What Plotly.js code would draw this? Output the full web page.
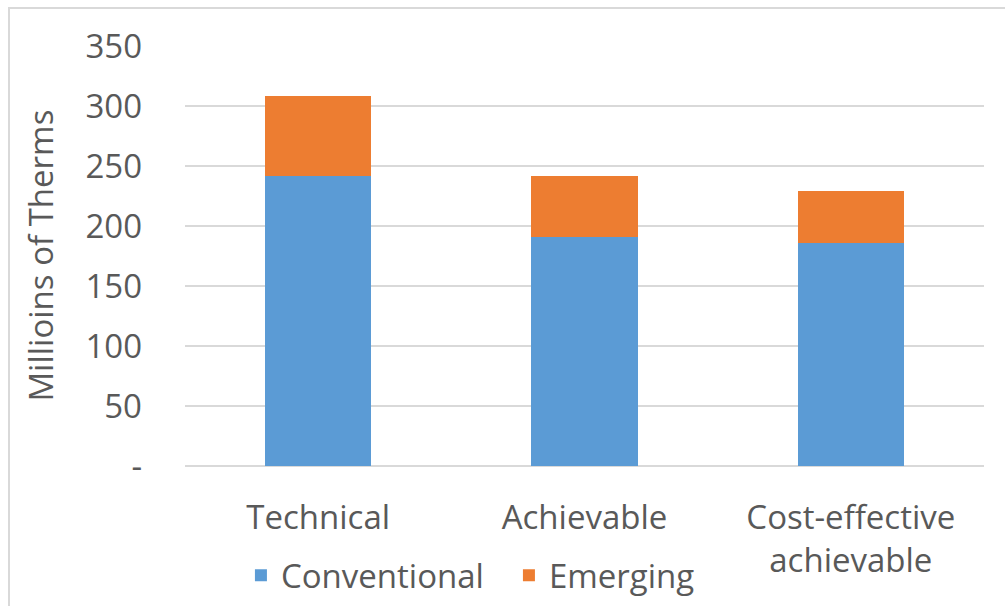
<!DOCTYPE html>
<html>
<head>
<meta charset="utf-8">
<script src="https://cdn.plot.ly/plotly-3.0.1.min.js"></script>
<style>
  html, body { margin: 0; padding: 0; background: #fff; }
  #wrap { position: relative; width: 1005px; height: 606px; overflow: hidden; }
  #chart { position: absolute; left: 0; top: 0; width: 1005px; height: 606px; }
  #frame { position: absolute; left: 8px; top: 7px; right: -10px; bottom: -10px;
           border-left: 2px solid #d9d9d9; border-top: 2px solid #d9d9d9; pointer-events: none; }
</style>
</head>
<body>
<div id="wrap">
  <div id="chart"></div>
  <div id="frame"></div>
</div>
<script>
const categories = ["Technical", "Achievable", "Cost-effective<br>achievable"];
const conventional = [241.5, 190.5, 186];
const emerging = [67, 51.5, 43];
const yTickVals = [0, 50, 100, 150, 200, 250, 300, 350];
const yTickText = ["-", "50", "100", "150", "200", "250", "300", "350"];
const yTitle = "Millioins of Therms";

const FONT = "Open Sans, sans-serif";
const GREY = "#595959";
const FS = 33;

const traces = [
  { type: "bar", name: "Conventional", x: categories, y: conventional,
    marker: { color: "#5B9BD5" } },
  { type: "bar", name: "Emerging", x: categories, y: emerging,
    marker: { color: "#ED7D31" } }
];

const layout = {
  width: 1005, height: 606,
  margin: { l: 185, r: 21, t: 46, b: 140, pad: 0, autoexpand: false },
  paper_bgcolor: "#ffffff", plot_bgcolor: "#ffffff",
  barmode: "stack",
  bargap: 0.6,
  font: { family: FONT, size: FS, color: GREY },
  showlegend: true,
  legend: {
    orientation: "h", x: 0.07, xanchor: "left", y: -0.26, yanchor: "middle",
    font: { family: FONT, size: FS, color: GREY },
    entrywidth: 223, entrywidthmode: "pixels",
    bgcolor: "rgba(0,0,0,0)", traceorder: "normal"
  },
  xaxis: {
    type: "category",
    showgrid: false, zeroline: false, showline: false, ticks: "",
    tickfont: { family: FONT, size: FS, color: GREY },
    ticklabelstandoff: 29,
    fixedrange: true
  },
  yaxis: {
    range: [0, 350],
    tickmode: "array", tickvals: yTickVals, ticktext: yTickText,
    showgrid: true, gridcolor: "#d9d9d9", gridwidth: 2,
    zeroline: true, zerolinecolor: "#d9d9d9", zerolinewidth: 2,
    showline: false, ticks: "",
    tickfont: { family: FONT, size: FS, color: GREY },
    ticklabelstandoff: 42,
    automargin: false,
    fixedrange: true
  },
  annotations: [
    { text: yTitle, xref: "paper", yref: "paper", x: -0.182, y: 0.5,
      xanchor: "center", yanchor: "middle", textangle: -90, showarrow: false,
      font: { family: FONT, size: FS, color: GREY } }
  ]
};

Plotly.newPlot("chart", traces, layout, { staticPlot: true, displayModeBar: false });
</script>
</body>
</html>
